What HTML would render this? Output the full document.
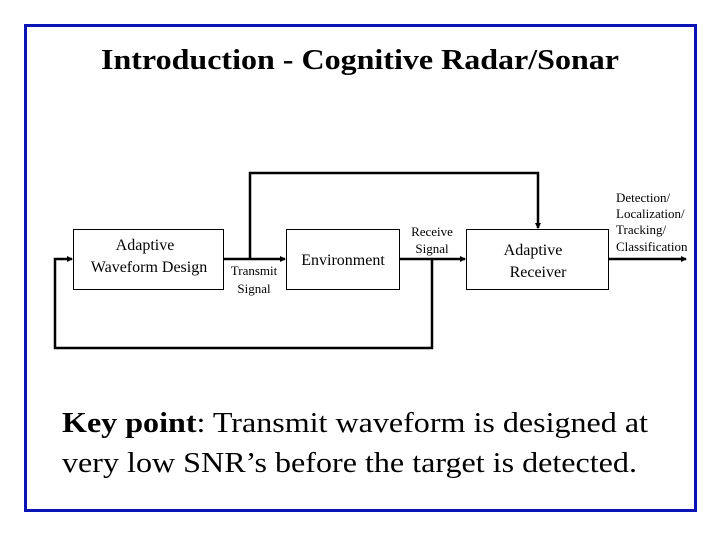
<!DOCTYPE html>
<html><head><meta charset="utf-8"><style>
html,body{margin:0;padding:0;background:#fff;}
svg{display:block;}
text{font-family:"Liberation Serif",serif;fill:#000;}
</style></head><body>
<svg width="720" height="540" viewBox="0 0 720 540" xmlns="http://www.w3.org/2000/svg">
<defs><marker id="a" markerWidth="6" markerHeight="6" refX="5" refY="3" orient="auto" markerUnits="userSpaceOnUse"><path d="M0,0 L6,3 L0,6 z" fill="#000"/></marker></defs>
<rect x="25.5" y="25.5" width="670" height="485" fill="none" stroke="#0a14b4" stroke-width="3"/>
<text x="360" y="69" font-size="29" font-weight="bold" text-anchor="middle" textLength="518" lengthAdjust="spacingAndGlyphs">Introduction - Cognitive Radar/Sonar</text>
<g fill="none" stroke="#000">
<rect x="73.5" y="229.5" width="150" height="60" stroke-width="1"/>
<rect x="286.5" y="229.5" width="113" height="60" stroke-width="1"/>
<rect x="466.5" y="229.5" width="142" height="60" stroke-width="1"/>
<g stroke-width="2.5">
<line x1="224" y1="259" x2="285" y2="259" marker-end="url(#a)"/>
<line x1="400" y1="259" x2="465" y2="259" marker-end="url(#a)"/>
<line x1="609" y1="259" x2="686" y2="259" marker-end="url(#a)"/>
<polyline points="250,259 250,173 538,173 538,228" marker-end="url(#a)"/>
<polyline points="432,259 432,348 55,348 55,259 72,259" marker-end="url(#a)"/>
</g>
</g>
<text x="145" y="250" font-size="16" text-anchor="middle">Adaptive</text>
<text x="149" y="272" font-size="16" text-anchor="middle">Waveform Design</text>
<text x="343" y="265" font-size="16" text-anchor="middle">Environment</text>
<text x="533" y="255" font-size="16" text-anchor="middle">Adaptive</text>
<text x="538" y="277" font-size="16" text-anchor="middle">Receiver</text>
<text x="254" y="275" font-size="13" text-anchor="middle">Transmit</text>
<text x="254" y="293" font-size="13" text-anchor="middle">Signal</text>
<text x="432" y="236" font-size="13" text-anchor="middle">Receive</text>
<text x="432" y="253" font-size="13" text-anchor="middle">Signal</text>
<text x="616" y="202" font-size="13">Detection/</text>
<text x="616" y="218" font-size="13">Localization/</text>
<text x="616" y="234" font-size="13">Tracking/</text>
<text x="616" y="251" font-size="13">Classification</text>
<text x="62" y="432" font-size="29" textLength="586" lengthAdjust="spacingAndGlyphs"><tspan font-weight="bold">Key point</tspan>: Transmit waveform is designed at</text>
<text x="62" y="472" font-size="29" textLength="575" lengthAdjust="spacingAndGlyphs">very low SNR’s before the target is detected.</text>
</svg>
</body></html>
